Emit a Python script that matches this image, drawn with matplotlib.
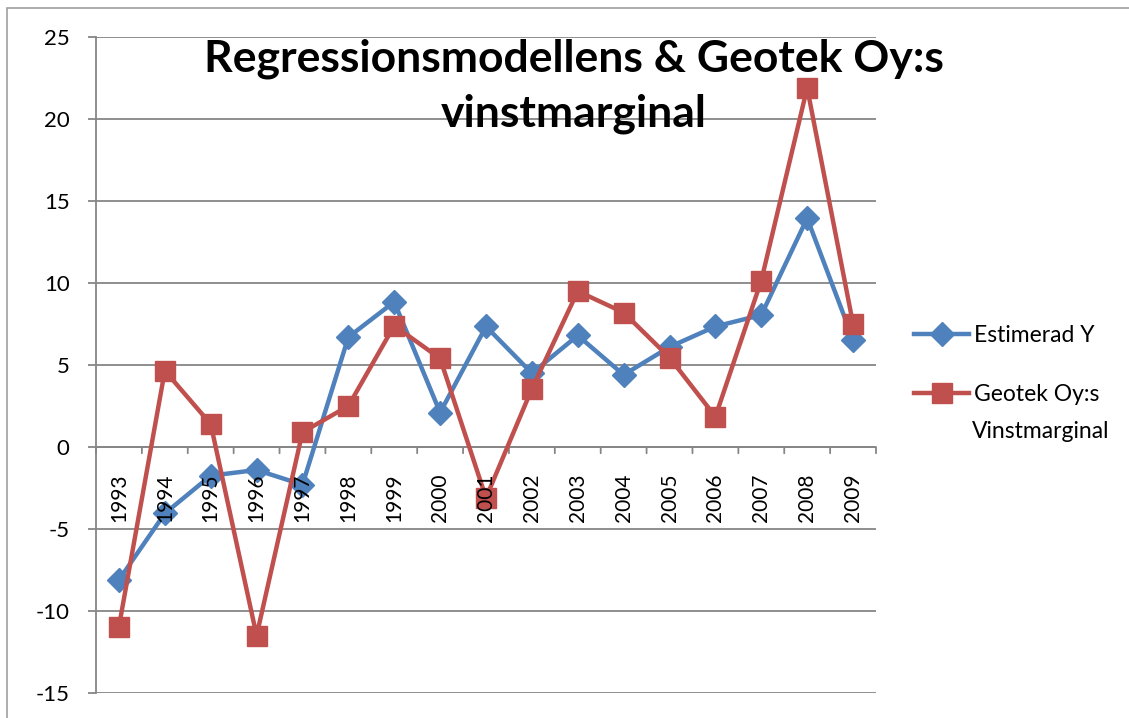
import matplotlib
matplotlib.use("Agg")
import matplotlib.pyplot as plt
from matplotlib.patches import Rectangle

# data
years = ["1993", "1994", "1995", "1996", "1997", "1998", "1999", "2000", "2001",
         "2002", "2003", "2004", "2005", "2006", "2007", "2008", "2009"]
estimerad_y = [-8.1, -4.05, -1.75, -1.4, -2.3, 6.7, 8.85, 2.1, 7.35,
               4.5, 6.8, 4.4, 6.1, 7.35, 8.05, 13.95, 6.55]
geotek = [-10.95, 4.65, 1.4, -11.5, 0.9, 2.5, 7.4, 5.4, -3.1,
          3.55, 9.5, 8.2, 5.45, 1.85, 10.15, 21.9, 7.5]
yticks = [-15, -10, -5, 0, 5, 10, 15, 20, 25]

blue = "#4F81BD"
red = "#C0504D"
grid_col = "#868686"

plt.rcParams['font.family'] = ['Lato', 'DejaVu Sans']

W, H = 1129, 718
fig = plt.figure(figsize=(W / 100, H / 100), dpi=100)
ax = fig.add_axes([96 / W, 25 / H, 780 / W, 656 / H])

x = list(range(len(years)))
ax.plot(x, estimerad_y, color=blue, lw=3.2, marker="D", markersize=12,
        label="Estimerad Y", zorder=3)
ax.plot(x, geotek, color=red, lw=3.2, marker="s", markersize=14,
        label="Geotek Oy:s", zorder=4)

ax.set_xlim(-0.5, len(years) - 0.5)
ax.set_ylim(-15, 25)
ax.set_yticks(yticks)
ax.set_yticklabels([str(v) for v in yticks], fontsize=16)
ax.yaxis.grid(True, color=grid_col, lw=1.3)
ax.set_axisbelow(True)
ax.tick_params(axis="y", length=6, color=grid_col, width=1.3, pad=13,
               direction="out")

for s in ["top", "right", "bottom"]:
    ax.spines[s].set_visible(False)
ax.spines["left"].set_color(grid_col)
ax.spines["left"].set_linewidth(1.3)

# category axis sits on y=0
ax.set_xticks([])
ax.axhline(0, color=grid_col, lw=1.3, zorder=1)
for i in range(len(years) + 1):
    ax.annotate("", xy=(i - 0.5, 0), xytext=(0, -4.5), textcoords="offset points",
                arrowprops=dict(arrowstyle="-", color=grid_col, lw=1.3,
                                shrinkA=0, shrinkB=0))
# year labels are drawn on top of the lines, like in the original
for i, yr in enumerate(years):
    ax.annotate(yr, xy=(i, 0), xytext=(0, -19), textcoords="offset points",
                rotation=90, ha="center", va="top", fontsize=15, zorder=6)

fig.text(574 / W, 1 - 86 / H, "Regressionsmodellens & Geotek Oy:s\nvinstmarginal",
         fontsize=32, fontweight="bold", ha="center", va="center",
         linespacing=1.44)

leg = ax.legend(loc="upper left", bbox_to_anchor=(903 / W, 1 - 314 / H),
                bbox_transform=fig.transFigure, frameon=False,
                fontsize=16.5, handlelength=2.4, handletextpad=0.2,
                labelspacing=1.65, borderpad=0)
fig.text(972 / W, 1 - 431 / H, "Vinstmarginal", fontsize=16.5,
         ha="left", va="center")

fig.patches.append(Rectangle((7 / W, -0.01), 1.2, 1 - 8 / H + 0.01,
                             transform=fig.transFigure, fill=False,
                             edgecolor="#A0A0A0", lw=1.2))

fig.savefig("out.png", dpi=100)
